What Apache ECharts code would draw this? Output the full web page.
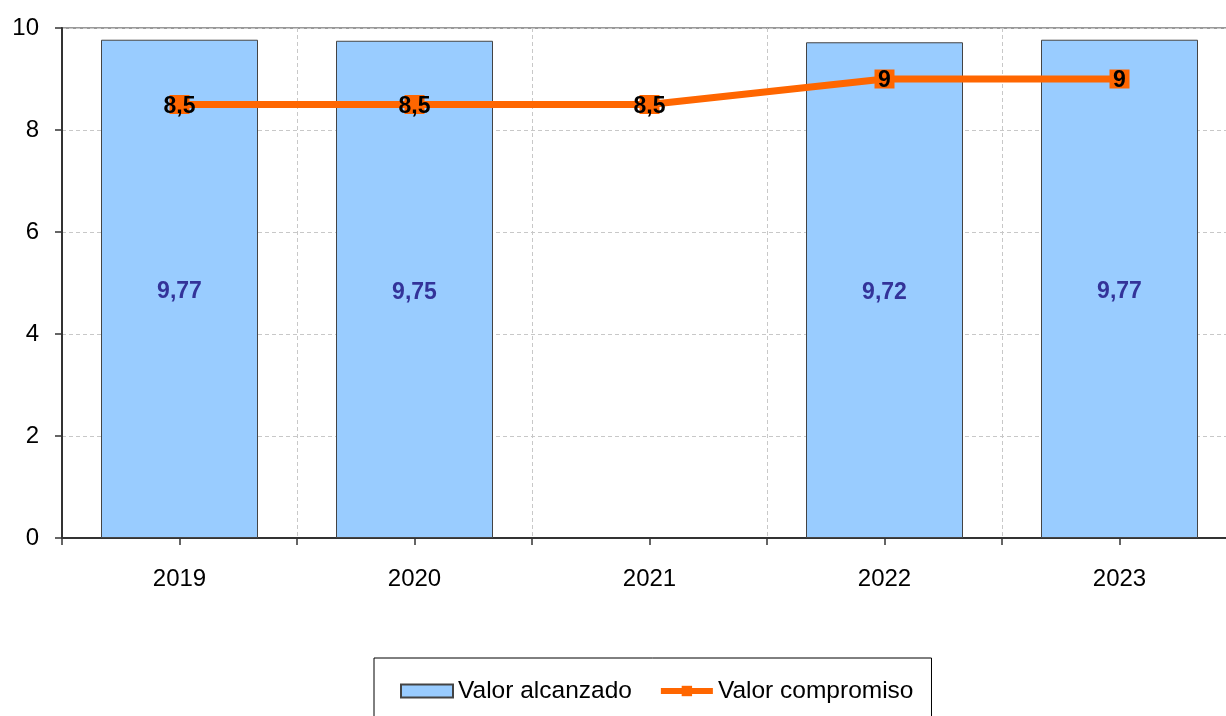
<!DOCTYPE html>
<html>
<head>
<meta charset="utf-8">
<script src="https://cdn.jsdelivr.net/npm/echarts@6/dist/echarts.min.js"></script>
<style>
  html, body { margin: 0; padding: 0; background: #fff; }
  #chart { width: 1226px; height: 716px; }
</style>
</head>
<body>
<div id="chart"></div>
<script>
// datos
var years = ['2019', '2020', '2021', '2022', '2023'];
var alcanzado = [9.77, 9.75, null, 9.72, 9.77];
var compromiso = [8.5, 8.5, 8.5, 9, 9];

var myChart = echarts.init(document.getElementById('chart'));

// coma decimal
function coma(v) {
    return String(v).replace('.', ',');
}

var option = {
    animation: false,
    textStyle: {
        fontFamily: 'Liberation Sans, Arial, sans-serif'
    },
    grid: {
        left: 62,
        top: 28,
        width: 1175,
        height: 510,
        containLabel: false,
        outerBoundsMode: 'none',
        show: true,
        borderColor: '#999',
        borderWidth: 2,
        backgroundColor: 'transparent'
    },
    legend: {
        left: 374,
        top: 658,
        padding: [20, 18, 24, 26],
        itemGap: 26,
        itemWidth: 52,
        itemHeight: 13,
        borderColor: '#000',
        borderWidth: 1,
        textStyle: { fontSize: 24.5, color: '#000', lineHeight: 26 },
        data: [
            { name: 'Valor alcanzado', icon: 'rect' },
            { name: 'Valor compromiso', lineStyle: { width: 6 } }
        ]
    },
    xAxis: [
        {
            type: 'category',
            data: years,
            axisLine: { show: true, lineStyle: { color: '#333', width: 2 } },
            axisTick: { show: true, length: 7, lineStyle: { color: '#333', width: 1.5 } },
            axisLabel: { fontSize: 24, color: '#000', margin: 29 },
            splitLine: {
                show: true,
                lineStyle: { color: '#c8c8c8', type: [4, 3], width: 1 }
            }
        },
        {
            // marcas en el centro de cada categoría
            type: 'category',
            data: years,
            position: 'bottom',
            axisLine: { show: true, lineStyle: { color: '#333', width: 2 } },
            axisTick: { show: true, alignWithLabel: true, length: 7, lineStyle: { color: '#333', width: 1.5 } },
            axisLabel: { show: false },
            splitLine: { show: false }
        }
    ],
    yAxis: {
        type: 'value',
        min: 0,
        max: 10,
        interval: 2,
        axisLine: { show: true, lineStyle: { color: '#333', width: 2 } },
        axisTick: { show: true, length: 7, lineStyle: { color: '#333', width: 1.5 } },
        axisLabel: { fontSize: 24, color: '#000', margin: 23 },
        splitLine: {
            lineStyle: { color: '#c8c8c8', type: [4, 3], width: 1 }
        }
    },
    series: [
        {
            name: 'Valor alcanzado',
            type: 'bar',
            data: alcanzado,
            barWidth: 157,
            itemStyle: {
                color: '#99CCFF',
                borderColor: '#444',
                borderWidth: 1
            },
            label: {
                show: true,
                position: 'inside',
                offset: [0, 3],
                color: '#333399',
                fontWeight: 'bold',
                fontSize: 23,
                formatter: function (p) { return coma(p.value); }
            }
        },
        {
            name: 'Valor compromiso',
            type: 'line',
            data: compromiso,
            symbol: 'rect',
            symbolSize: [20, 19],
            itemStyle: { color: '#FF6600' },
            lineStyle: { color: '#FF6600', width: 7 },
            label: {
                show: true,
                position: 'inside',
                offset: [0, 2],
                color: '#000',
                fontWeight: 'bold',
                fontSize: 23,
                formatter: function (p) { return coma(p.value); }
            },
            z: 5
        }
    ]
};

myChart.setOption(option);
</script>
</body>
</html>
